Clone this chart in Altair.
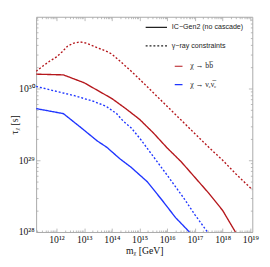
import altair as alt
import pandas as pd

# log10(m_chi / GeV) and log10(tau / s)
bb_ic_logm   = [11.265, 12.25, 13.0, 13.5, 14.0, 14.5, 15.0, 15.5, 16.0, 16.5, 17.0, 17.5, 18.0, 18.46]
bb_ic_logtau = [30.20, 30.19, 30.08, 29.97, 29.86, 29.72, 29.57, 29.38, 29.17, 28.98, 28.76, 28.54, 28.30, 28.0]

bb_gam_logm   = [11.265, 11.5, 11.75, 12.0, 12.2, 12.4, 12.6, 12.85, 13.1, 13.35, 13.6, 13.85, 14.0, 14.3, 14.7, 15.0, 15.5, 16.0, 16.5, 17.0, 17.5, 18.0, 18.5, 19.07]
bb_gam_logtau = [30.24, 30.31, 30.38, 30.44, 30.51, 30.59, 30.63, 30.65, 30.63, 30.59, 30.55, 30.51, 30.48, 30.38, 30.24, 30.13, 29.94, 29.75, 29.56, 29.37, 29.18, 29.00, 28.80, 28.59]

nu_ic_logm   = [11.265, 12.25, 12.9, 13.47, 13.82, 14.29, 14.7, 15.28, 15.8, 16.3, 16.8]
nu_ic_logtau = [29.72, 29.65, 29.45, 29.27, 29.18, 29.02, 28.90, 28.70, 28.45, 28.20, 28.0]

nu_gam_logm   = [11.265, 12.0, 12.65, 13.35, 13.8, 14.17, 14.4, 14.7, 15.04, 15.5, 16.0, 16.6, 17.0, 17.45]
nu_gam_logtau = [30.03, 29.96, 29.90, 29.82, 29.75, 29.65, 29.55, 29.45, 29.29, 29.05, 28.79, 28.47, 28.24, 28.0]

x_decades = [12, 13, 14, 15, 16, 17, 18, 19]
y_decades = [28, 29, 30]

series = [
    ("bb_ic", "b", "ic", bb_ic_logm, bb_ic_logtau),
    ("bb_gam", "b", "gam", bb_gam_logm, bb_gam_logtau),
    ("nu_ic", "nu", "ic", nu_ic_logm, nu_ic_logtau),
    ("nu_gam", "nu", "gam", nu_gam_logm, nu_gam_logtau),
]
rows = []
for name, chan, kind, lm, lt in series:
    for i, (a, b) in enumerate(zip(lm, lt)):
        rows.append({"name": name, "chan": chan, "kind": kind, "i": i,
                     "m": 10 ** a, "tau": 10 ** b})
df = pd.DataFrame(rows)

xmin, xmax = 10 ** 11.265, 10 ** 19.07
ymin, ymax = 1e28, 1e31
xs = alt.Scale(type="log", domain=[xmin, xmax], nice=False)
ys = alt.Scale(type="log", domain=[ymin, ymax], nice=False)

sup = str.maketrans("0123456789", "⁰¹²³⁴⁵⁶⁷⁸⁹")
def label_expr(decs):
    e = "''"
    for d in reversed(decs):
        e = f"round(log(datum.value)/LN10)=={d} ? '10{str(d).translate(sup)}' : ({e})"
    return e

x_major = [10 ** d for d in x_decades]
y_major = [10 ** d for d in y_decades]
x_minor = [k * 10 ** n for n in range(11, 19) for k in range(2, 10) if xmin <= k * 10 ** n <= xmax]
y_minor = [k * 10 ** n for n in range(28, 31) for k in range(2, 10) if ymin <= k * 10 ** n <= ymax]

FR = "#a8a8a8"
SERIF = "Liberation Serif"

base = alt.Chart(df)

lines = base.mark_line(strokeWidth=1.4, clip=True).encode(
    x=alt.X("m:Q", scale=xs, axis=alt.Axis(
        orient="bottom", values=x_major, labelExpr=label_expr(x_decades),
        tickSize=0, domain=False, grid=False, labelFont=SERIF, labelFontSize=10,
        labelColor="#111", labelPadding=3, labelFlush=False,
        title="mᵪ [GeV]", titleFont=SERIF, titleFontSize=10, titleFontWeight="normal",
        titleColor="#111", titlePadding=1)),
    y=alt.Y("tau:Q", scale=ys, axis=alt.Axis(
        orient="left", values=y_major, labelExpr=label_expr(y_decades),
        tickSize=0, domain=False, grid=False, labelFont=SERIF, labelFontSize=10,
        labelColor="#111", labelPadding=2, labelFlush=False,
        title="τᵪ [s]", titleFont=SERIF, titleFontSize=10, titleFontWeight="normal",
        titleColor="#111", titleX=-22, titleY=111, titleAngle=-90, titleBaseline="middle")),
    color=alt.Color("chan:N", scale=alt.Scale(domain=["b", "nu"], range=["#b5171c", "#1f35ff"]), legend=None),
    strokeDash=alt.StrokeDash("kind:N", scale=alt.Scale(domain=["ic", "gam"], range=[[1, 0], [2, 2]]), legend=None),
    detail="name:N",
    order="i:Q",
)

def tick_layer(xo, yo, xv, yv, size):
    return base.mark_point(opacity=0).encode(
        x=alt.X("m:Q", scale=xs, axis=alt.Axis(
            orient=xo, values=xv, labels=False, tickSize=size, offset=-size,
            domain=False, grid=False, title=None, tickColor=FR, tickWidth=0.8)),
        y=alt.Y("tau:Q", scale=ys, axis=alt.Axis(
            orient=yo, values=yv, labels=False, tickSize=size, offset=-size,
            domain=False, grid=False, title=None, tickColor=FR, tickWidth=0.8)),
    )

ticks = [
    tick_layer("bottom", "left", x_major, y_major, 4),
    tick_layer("bottom", "left", x_minor, y_minor, 2),
    tick_layer("top", "right", x_major, y_major, 4),
    tick_layer("top", "right", x_minor, y_minor, 2),
]

one = pd.DataFrame({"a": [0]})
def leg_line(x1, x2, y, color, dash):
    return alt.Chart(one).mark_rule(color=color, strokeWidth=1.2, strokeDash=dash).encode(
        x=alt.value(x1), x2=alt.value(x2), y=alt.value(y))

def leg_text(x, y, t, font, size):
    return alt.Chart(one).mark_text(text=t, font=font, fontSize=size, align="left",
                                     baseline="middle", color="#222").encode(
        x=alt.value(x), y=alt.value(y))

legend = [
    leg_line(113, 135, 11, "#222", [1, 0]),
    leg_text(140, 11, "IC−Gen2 (no cascade)", "Liberation Sans", 7.3),
    leg_line(113, 135, 30, "#222", [2, 2]),
    leg_text(140, 30, "γ−ray constraints", "Liberation Sans", 7.3),
    leg_line(143, 151, 51, "#b5171c", [1, 0]),
    leg_text(159, 51, "χ → bb̅", SERIF, 8),
    leg_line(143, 151, 70, "#1f35ff", [1, 0]),
    leg_text(159, 70, "χ → νₑν̅ₑ", SERIF, 8),
]

chart = alt.layer(lines, *ticks, *legend).resolve_axis(
    x="independent", y="independent"
).properties(
    width=223, height=222,
    autosize=alt.AutoSizeParams(type="none"),
    padding={"left": 29, "top": 5, "right": 10, "bottom": 30},
).configure_view(stroke=FR, strokeWidth=1)

chart.save("out.html", embed_options={"renderer": "svg", "actions": False})
